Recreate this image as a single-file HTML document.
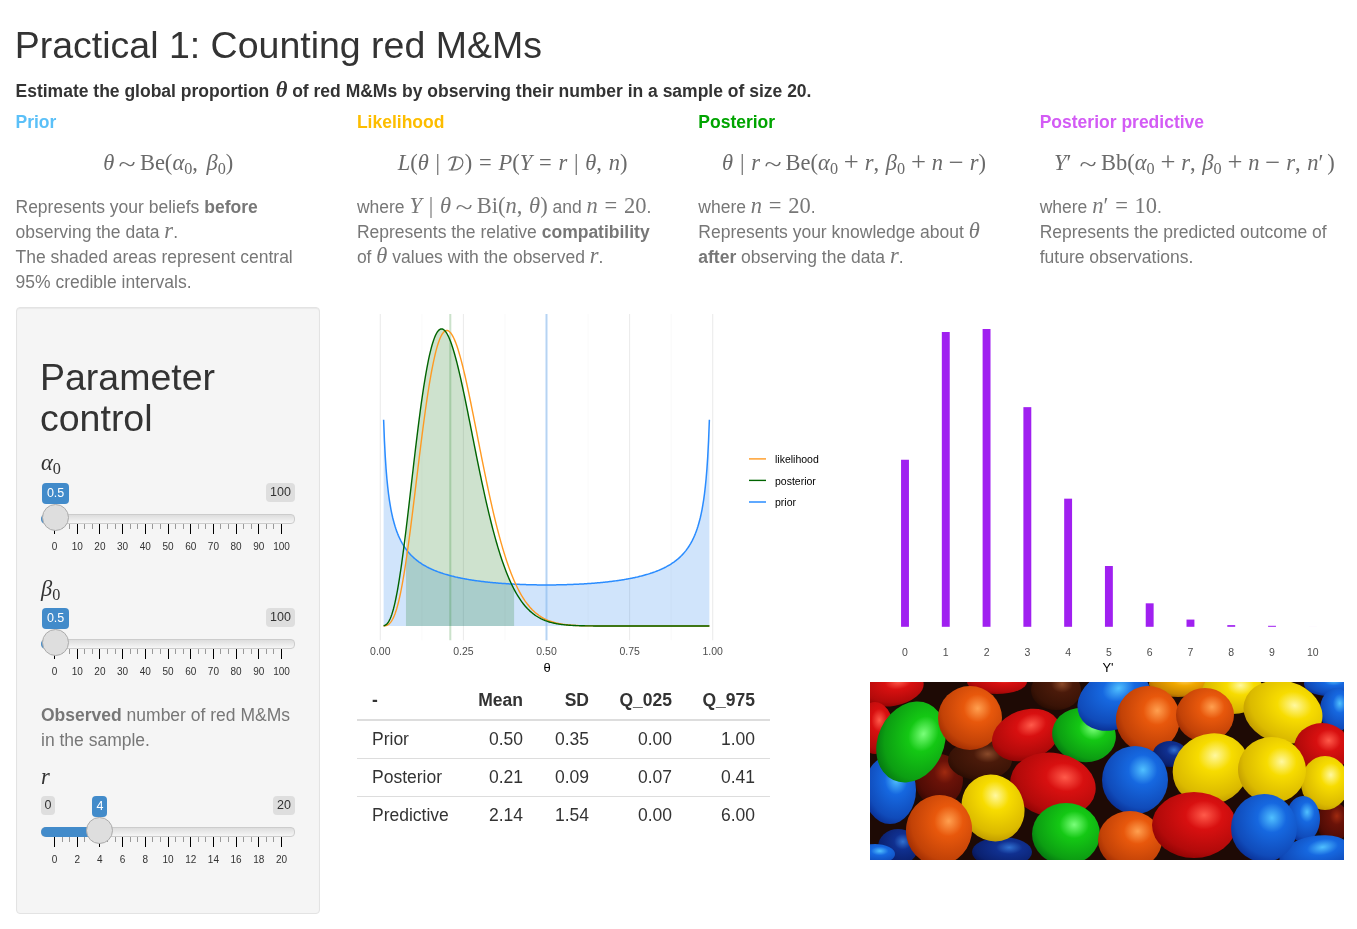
<!DOCTYPE html>
<html><head><meta charset="utf-8"><title>Practical 1: Counting red M&amp;Ms</title>
<style>
html,body{margin:0;padding:0;background:#fff;}
body{will-change:transform;width:1357px;height:929px;overflow:hidden;position:relative;font-family:"Liberation Sans",sans-serif;color:#333;font-size:17.5px;line-height:25px;}
.abs{position:absolute;}
h1{position:absolute;margin:0;font-weight:normal;font-size:37.5px;line-height:41px;left:14.7px;top:25.2px;color:#333;white-space:nowrap;}
.sub{position:absolute;left:15.5px;top:78.8px;font-weight:bold;white-space:nowrap;}
.hd4{font-weight:bold;white-space:nowrap;}
.frm{width:311.4px;text-align:center;white-space:nowrap;color:#6a6a6a;}
.dsc{color:#777;white-space:nowrap;}
.dsc .m,.sub .m{line-height:0;}
.sub .m{margin:0 0 0 1.5px;}
.m{font-family:"Liberation Serif",serif;font-size:22.5px;white-space:nowrap;}
.m i{font-style:italic;}
.sb{font-size:72%;vertical-align:-0.22em;line-height:0;}
.rel{margin:0 0.3em;}
.bin{margin:0 0.22em;font-size:118%;line-height:0;vertical-align:-0.04em;}
.cm{margin-right:0.3em;}
.pr{margin-right:0.17em;}
.calD{display:inline-block;vertical-align:-0.5px;margin:0 1px 0 0;}
.til{display:inline-block;transform:translateY(0.1em) scaleX(1.4);}

.well{position:absolute;left:16px;top:307px;width:302px;height:605px;background:#f5f5f5;border:1px solid #e3e3e3;border-radius:4px;box-shadow:inset 0 1px 1px rgba(0,0,0,.05);}
.pc{position:absolute;left:40px;top:357px;font-size:37.5px;line-height:41px;color:#333;}
.lbl{position:absolute;left:41px;color:#333;}
.obs{position:absolute;left:41px;top:702.5px;color:#777;}
.trk{position:absolute;height:9.5px;border-radius:4px;background:linear-gradient(to bottom,#dddddd 0%,#f6f6f6 100%);border:1px solid #cccccc;box-sizing:border-box;}
.sbar{position:absolute;height:9.5px;border-radius:5px 0 0 5px;background:#428bca;}
.tkM{position:absolute;width:1px;height:10px;background:#000;}
.tkm{position:absolute;width:1px;height:5px;background:#999;}
.sl{position:absolute;width:60px;text-align:center;font-size:10px;line-height:12px;color:#333;}
.hdl{position:absolute;width:27px;height:27px;border-radius:50%;background:#dedede;border:1px solid #ababab;box-sizing:border-box;}
.bdg{position:absolute;height:21px;line-height:21px;text-align:center;font-size:12.5px;color:#fff;background:#428bca;border-radius:4px;}
.bdg.g{background:#dedede;color:#333;height:18.5px;line-height:19px;}
.tl{position:absolute;width:80px;text-align:center;font-size:10.5px;line-height:12px;color:#4d4d4d;}
.axt{position:absolute;width:80px;text-align:center;font-size:13px;line-height:15px;color:#000;}
.leg{position:absolute;font-size:10.5px;line-height:12px;color:#000;}
.tb{border-collapse:collapse;table-layout:fixed;width:413px;font-size:17.5px;}
.tb th,.tb td{text-align:right;padding:0 15px 0 15px;height:37px;line-height:25px;}
.tb tr.hd th{border-bottom:2px solid #dddddd;height:37px;}
.tb td{border-top:1px solid #dddddd;}
.tb tr:nth-child(2) td{border-top:none;}
</style></head><body>
<h1>Practical 1: Counting red M&amp;Ms</h1>
<div class="sub">Estimate the global proportion <span class="m"><i>θ</i></span> of red M&amp;Ms by observing their number in a sample of size 20.</div>
<div class="hd4 abs" style="left:15.5px;top:110px;color:#5bc0f8">Prior</div><div class="frm abs" style="left:12.5px;top:150px"><span class="m"><i>θ</i><span class="rel til">~</span>Be(<i>α</i><span class="sb">0</span><span class="cm" style="margin-right:0.38em">,</span><i>β</i><span class="sb">0</span>)</span></div><div class="dsc abs" style="left:15.5px;top:195px">Represents your beliefs <b>before</b><br>observing the data <span class="m"><i>r</i></span>.<br>The shaded areas represent central<br>95% credible intervals.</div><div class="hd4 abs" style="left:356.9px;top:110px;color:#fdbd00">Likelihood</div><div class="frm abs" style="left:356.9px;top:150px"><span class="m"><i>L</i>(<i>θ</i><span class="rel vb">|</span><svg class="calD" width="17" height="15" viewBox="0 0 17 15"><path d="M1.2,4.4 C2.2,2 4.6,0.9 8.6,0.9 C13.6,0.9 15.9,3.4 15.9,6.6 C15.9,11 11.6,14 6.6,14 L1.8,14" fill="none" stroke="currentColor" stroke-width="1.15"/><path d="M8.6,1.2 C7.9,5.6 6.4,10.6 4.4,13.9" fill="none" stroke="currentColor" stroke-width="1.9"/></svg>)<span class="rel">=</span><i>P</i>(<i>Y</i><span class="rel">=</span><i>r</i><span class="rel vb">|</span><i>θ</i><span class="cm">,</span><i>n</i>)</span></div><div class="dsc abs" style="left:356.9px;top:195px">where <span class="m"><i>Y</i><span class="rel vb">|</span><i>θ</i><span class="rel til">~</span>Bi(<i>n</i><span class="cm">,</span><i>θ</i>)</span> and <span class="m"><i>n</i><span class="rel">=</span>20</span>.<br>Represents the relative <b>compatibility</b><br>of <span class="m"><i>θ</i></span> values with the observed <span class="m"><i>r</i></span>.</div><div class="hd4 abs" style="left:698.3px;top:110px;color:#00a400">Posterior</div><div class="frm abs" style="left:698.3px;top:150px"><span class="m"><i>θ</i><span class="rel vb">|</span><i>r</i><span class="rel til">~</span>Be(<i>α</i><span class="sb">0</span><span class="bin">+</span><i>r</i><span class="cm">,</span><i>β</i><span class="sb">0</span><span class="bin">+</span><i>n</i><span class="bin">−</span><i>r</i>)</span></div><div class="dsc abs" style="left:698.3px;top:195px">where <span class="m"><i>n</i><span class="rel">=</span>20</span>.<br>Represents your knowledge about <span class="m"><i>θ</i></span><br><b>after</b> observing the data <span class="m"><i>r</i></span>.</div><div class="hd4 abs" style="left:1039.7px;top:110px;color:#d35bf5">Posterior predictive</div><div class="frm abs" style="left:1038.7px;top:150px"><span class="m"><i>Y</i><span class="pr">′</span><span class="rel til">~</span>Bb(<i>α</i><span class="sb">0</span><span class="bin">+</span><i>r</i><span class="cm">,</span><i>β</i><span class="sb">0</span><span class="bin">+</span><i>n</i><span class="bin">−</span><i>r</i><span class="cm">,</span><i>n</i><span class="pr">′</span>)</span></div><div class="dsc abs" style="left:1039.7px;top:195px">where <span class="m"><i>n</i>′<span class="rel">=</span>10</span>.<br>Represents the predicted outcome of<br>future observations.</div>
<div class="well"></div>
<div class="pc">Parameter<br>control</div>
<div class="lbl m" style="top:450px"><i>α</i><span class="sb">0</span></div>
<div class="trk" style="left:41px;top:514.0px;width:254px"></div><div class="sbar" style="left:41px;top:514.0px;width:14.6px"></div><div class="tkM" style="left:54.00px;top:523.8px"></div><div class="tkm" style="left:61.57px;top:523.8px"></div><div class="tkm" style="left:69.13px;top:523.8px"></div><div class="tkM" style="left:76.70px;top:523.8px"></div><div class="tkm" style="left:84.27px;top:523.8px"></div><div class="tkm" style="left:91.83px;top:523.8px"></div><div class="tkM" style="left:99.40px;top:523.8px"></div><div class="tkm" style="left:106.97px;top:523.8px"></div><div class="tkm" style="left:114.53px;top:523.8px"></div><div class="tkM" style="left:122.10px;top:523.8px"></div><div class="tkm" style="left:129.67px;top:523.8px"></div><div class="tkm" style="left:137.23px;top:523.8px"></div><div class="tkM" style="left:144.80px;top:523.8px"></div><div class="tkm" style="left:152.37px;top:523.8px"></div><div class="tkm" style="left:159.93px;top:523.8px"></div><div class="tkM" style="left:167.50px;top:523.8px"></div><div class="tkm" style="left:175.07px;top:523.8px"></div><div class="tkm" style="left:182.63px;top:523.8px"></div><div class="tkM" style="left:190.20px;top:523.8px"></div><div class="tkm" style="left:197.77px;top:523.8px"></div><div class="tkm" style="left:205.33px;top:523.8px"></div><div class="tkM" style="left:212.90px;top:523.8px"></div><div class="tkm" style="left:220.47px;top:523.8px"></div><div class="tkm" style="left:228.03px;top:523.8px"></div><div class="tkM" style="left:235.60px;top:523.8px"></div><div class="tkm" style="left:243.17px;top:523.8px"></div><div class="tkm" style="left:250.73px;top:523.8px"></div><div class="tkM" style="left:258.30px;top:523.8px"></div><div class="tkm" style="left:265.87px;top:523.8px"></div><div class="tkm" style="left:273.43px;top:523.8px"></div><div class="tkM" style="left:281.00px;top:523.8px"></div><div class="sl" style="left:24.50px;top:541.3px">0</div><div class="sl" style="left:47.20px;top:541.3px">10</div><div class="sl" style="left:69.90px;top:541.3px">20</div><div class="sl" style="left:92.60px;top:541.3px">30</div><div class="sl" style="left:115.30px;top:541.3px">40</div><div class="sl" style="left:138.00px;top:541.3px">50</div><div class="sl" style="left:160.70px;top:541.3px">60</div><div class="sl" style="left:183.40px;top:541.3px">70</div><div class="sl" style="left:206.10px;top:541.3px">80</div><div class="sl" style="left:228.80px;top:541.3px">90</div><div class="sl" style="left:251.50px;top:541.3px">100</div><div class="hdl" style="left:42.1px;top:504.0px"></div><div class="bdg" style="left:42.1px;top:483px;width:27px">0.5</div><div class="bdg g" style="left:266px;top:483px;width:29px">100</div>
<div class="lbl m" style="top:576px"><i>β</i><span class="sb">0</span></div>
<div class="trk" style="left:41px;top:639.0px;width:254px"></div><div class="sbar" style="left:41px;top:639.0px;width:14.6px"></div><div class="tkM" style="left:54.00px;top:648.8px"></div><div class="tkm" style="left:61.57px;top:648.8px"></div><div class="tkm" style="left:69.13px;top:648.8px"></div><div class="tkM" style="left:76.70px;top:648.8px"></div><div class="tkm" style="left:84.27px;top:648.8px"></div><div class="tkm" style="left:91.83px;top:648.8px"></div><div class="tkM" style="left:99.40px;top:648.8px"></div><div class="tkm" style="left:106.97px;top:648.8px"></div><div class="tkm" style="left:114.53px;top:648.8px"></div><div class="tkM" style="left:122.10px;top:648.8px"></div><div class="tkm" style="left:129.67px;top:648.8px"></div><div class="tkm" style="left:137.23px;top:648.8px"></div><div class="tkM" style="left:144.80px;top:648.8px"></div><div class="tkm" style="left:152.37px;top:648.8px"></div><div class="tkm" style="left:159.93px;top:648.8px"></div><div class="tkM" style="left:167.50px;top:648.8px"></div><div class="tkm" style="left:175.07px;top:648.8px"></div><div class="tkm" style="left:182.63px;top:648.8px"></div><div class="tkM" style="left:190.20px;top:648.8px"></div><div class="tkm" style="left:197.77px;top:648.8px"></div><div class="tkm" style="left:205.33px;top:648.8px"></div><div class="tkM" style="left:212.90px;top:648.8px"></div><div class="tkm" style="left:220.47px;top:648.8px"></div><div class="tkm" style="left:228.03px;top:648.8px"></div><div class="tkM" style="left:235.60px;top:648.8px"></div><div class="tkm" style="left:243.17px;top:648.8px"></div><div class="tkm" style="left:250.73px;top:648.8px"></div><div class="tkM" style="left:258.30px;top:648.8px"></div><div class="tkm" style="left:265.87px;top:648.8px"></div><div class="tkm" style="left:273.43px;top:648.8px"></div><div class="tkM" style="left:281.00px;top:648.8px"></div><div class="sl" style="left:24.50px;top:666.3px">0</div><div class="sl" style="left:47.20px;top:666.3px">10</div><div class="sl" style="left:69.90px;top:666.3px">20</div><div class="sl" style="left:92.60px;top:666.3px">30</div><div class="sl" style="left:115.30px;top:666.3px">40</div><div class="sl" style="left:138.00px;top:666.3px">50</div><div class="sl" style="left:160.70px;top:666.3px">60</div><div class="sl" style="left:183.40px;top:666.3px">70</div><div class="sl" style="left:206.10px;top:666.3px">80</div><div class="sl" style="left:228.80px;top:666.3px">90</div><div class="sl" style="left:251.50px;top:666.3px">100</div><div class="hdl" style="left:42.1px;top:629.0px"></div><div class="bdg" style="left:42.1px;top:608px;width:27px">0.5</div><div class="bdg g" style="left:266px;top:608px;width:29px">100</div>
<div class="obs"><b>Observed</b> number of red M&amp;Ms<br>in the sample.</div>
<div class="lbl m" style="top:763.5px"><i>r</i></div>
<div class="trk" style="left:41px;top:827.1px;width:254px"></div><div class="sbar" style="left:41px;top:827.1px;width:58.9px"></div><div class="tkM" style="left:54.00px;top:836.9px"></div><div class="tkm" style="left:61.57px;top:836.9px"></div><div class="tkm" style="left:69.13px;top:836.9px"></div><div class="tkM" style="left:76.70px;top:836.9px"></div><div class="tkm" style="left:84.27px;top:836.9px"></div><div class="tkm" style="left:91.83px;top:836.9px"></div><div class="tkM" style="left:99.40px;top:836.9px"></div><div class="tkm" style="left:106.97px;top:836.9px"></div><div class="tkm" style="left:114.53px;top:836.9px"></div><div class="tkM" style="left:122.10px;top:836.9px"></div><div class="tkm" style="left:129.67px;top:836.9px"></div><div class="tkm" style="left:137.23px;top:836.9px"></div><div class="tkM" style="left:144.80px;top:836.9px"></div><div class="tkm" style="left:152.37px;top:836.9px"></div><div class="tkm" style="left:159.93px;top:836.9px"></div><div class="tkM" style="left:167.50px;top:836.9px"></div><div class="tkm" style="left:175.07px;top:836.9px"></div><div class="tkm" style="left:182.63px;top:836.9px"></div><div class="tkM" style="left:190.20px;top:836.9px"></div><div class="tkm" style="left:197.77px;top:836.9px"></div><div class="tkm" style="left:205.33px;top:836.9px"></div><div class="tkM" style="left:212.90px;top:836.9px"></div><div class="tkm" style="left:220.47px;top:836.9px"></div><div class="tkm" style="left:228.03px;top:836.9px"></div><div class="tkM" style="left:235.60px;top:836.9px"></div><div class="tkm" style="left:243.17px;top:836.9px"></div><div class="tkm" style="left:250.73px;top:836.9px"></div><div class="tkM" style="left:258.30px;top:836.9px"></div><div class="tkm" style="left:265.87px;top:836.9px"></div><div class="tkm" style="left:273.43px;top:836.9px"></div><div class="tkM" style="left:281.00px;top:836.9px"></div><div class="sl" style="left:24.50px;top:854.4px">0</div><div class="sl" style="left:47.20px;top:854.4px">2</div><div class="sl" style="left:69.90px;top:854.4px">4</div><div class="sl" style="left:92.60px;top:854.4px">6</div><div class="sl" style="left:115.30px;top:854.4px">8</div><div class="sl" style="left:138.00px;top:854.4px">10</div><div class="sl" style="left:160.70px;top:854.4px">12</div><div class="sl" style="left:183.40px;top:854.4px">14</div><div class="sl" style="left:206.10px;top:854.4px">16</div><div class="sl" style="left:228.80px;top:854.4px">18</div><div class="sl" style="left:251.50px;top:854.4px">20</div><div class="hdl" style="left:86.4px;top:817.1px"></div><div class="bdg" style="left:92.4px;top:796.1px;width:15px">4</div><div class="bdg g" style="left:273px;top:796.1px;width:22px">20</div><div class="bdg g" style="left:41px;top:796.1px;width:14px">0</div>
<svg class="abs" style="left:0;top:0" width="1357" height="929" viewBox="0 0 1357 929">
<line x1="380.30" y1="314" x2="380.30" y2="640.3" stroke="#ebebeb" stroke-width="1.07"/><line x1="421.85" y1="314" x2="421.85" y2="640.3" stroke="#f3f3f3" stroke-width="0.53"/><line x1="463.40" y1="314" x2="463.40" y2="640.3" stroke="#ebebeb" stroke-width="1.07"/><line x1="504.95" y1="314" x2="504.95" y2="640.3" stroke="#f3f3f3" stroke-width="0.53"/><line x1="546.50" y1="314" x2="546.50" y2="640.3" stroke="#ebebeb" stroke-width="1.07"/><line x1="588.05" y1="314" x2="588.05" y2="640.3" stroke="#f3f3f3" stroke-width="0.53"/><line x1="629.60" y1="314" x2="629.60" y2="640.3" stroke="#ebebeb" stroke-width="1.07"/><line x1="671.15" y1="314" x2="671.15" y2="640.3" stroke="#f3f3f3" stroke-width="0.53"/><line x1="712.70" y1="314" x2="712.70" y2="640.3" stroke="#ebebeb" stroke-width="1.07"/>
<path d="M383.62,626.00 L383.62,419.67 L384.71,446.64 L385.80,465.11 L386.89,478.76 L387.98,489.37 L389.07,497.92 L390.16,505.00 L391.25,510.98 L392.34,516.12 L393.43,520.60 L394.52,524.55 L395.61,528.05 L396.70,531.20 L397.79,534.04 L398.88,536.63 L399.97,538.99 L401.06,541.15 L402.15,543.15 L403.23,545.00 L404.32,546.72 L405.41,548.32 L406.50,549.82 L407.59,551.22 L408.68,552.54 L409.77,553.78 L410.86,554.95 L411.95,556.06 L413.04,557.11 L414.13,558.10 L415.22,559.05 L416.31,559.94 L417.40,560.80 L418.49,561.62 L419.58,562.40 L420.67,563.15 L421.76,563.86 L422.84,564.55 L423.93,565.21 L425.02,565.84 L426.11,566.45 L427.20,567.03 L428.29,567.59 L429.38,568.13 L430.47,568.65 L431.56,569.16 L432.65,569.64 L433.74,570.11 L434.83,570.56 L435.92,571.00 L437.01,571.42 L438.10,571.83 L439.19,572.23 L440.28,572.61 L441.37,572.99 L442.46,573.35 L443.54,573.70 L444.63,574.04 L445.72,574.37 L446.81,574.69 L447.90,575.00 L448.99,575.30 L450.08,575.59 L451.17,575.88 L452.26,576.15 L453.35,576.42 L454.44,576.68 L455.53,576.94 L456.62,577.19 L457.71,577.43 L458.80,577.66 L459.89,577.89 L460.98,578.11 L462.07,578.33 L463.16,578.54 L464.24,578.75 L465.33,578.95 L466.42,579.14 L467.51,579.33 L468.60,579.52 L469.69,579.70 L470.78,579.88 L471.87,580.05 L472.96,580.22 L474.05,580.38 L475.14,580.54 L476.23,580.69 L477.32,580.84 L478.41,580.99 L479.50,581.13 L480.59,581.27 L481.68,581.41 L482.77,581.54 L483.86,581.67 L484.94,581.80 L486.03,581.92 L487.12,582.04 L488.21,582.16 L489.30,582.27 L490.39,582.38 L491.48,582.49 L492.57,582.59 L493.66,582.69 L494.75,582.79 L495.84,582.89 L496.93,582.98 L498.02,583.07 L499.11,583.16 L500.20,583.25 L501.29,583.33 L502.38,583.41 L503.47,583.49 L504.56,583.57 L505.64,583.64 L506.73,583.71 L507.82,583.78 L508.91,583.85 L510.00,583.91 L511.09,583.98 L512.18,584.04 L513.27,584.09 L514.36,584.15 L515.45,584.21 L516.54,584.26 L517.63,584.31 L518.72,584.36 L519.81,584.40 L520.90,584.44 L521.99,584.49 L523.08,584.53 L524.17,584.57 L525.26,584.60 L526.34,584.64 L527.43,584.67 L528.52,584.70 L529.61,584.73 L530.70,584.75 L531.79,584.78 L532.88,584.80 L533.97,584.82 L535.06,584.84 L536.15,584.86 L537.24,584.88 L538.33,584.89 L539.42,584.90 L540.51,584.91 L541.60,584.92 L542.69,584.93 L543.78,584.94 L544.87,584.94 L545.96,584.94 L547.04,584.94 L548.13,584.94 L549.22,584.94 L550.31,584.93 L551.40,584.92 L552.49,584.91 L553.58,584.90 L554.67,584.89 L555.76,584.88 L556.85,584.86 L557.94,584.84 L559.03,584.82 L560.12,584.80 L561.21,584.78 L562.30,584.75 L563.39,584.73 L564.48,584.70 L565.57,584.67 L566.66,584.64 L567.74,584.60 L568.83,584.57 L569.92,584.53 L571.01,584.49 L572.10,584.44 L573.19,584.40 L574.28,584.36 L575.37,584.31 L576.46,584.26 L577.55,584.21 L578.64,584.15 L579.73,584.09 L580.82,584.04 L581.91,583.98 L583.00,583.91 L584.09,583.85 L585.18,583.78 L586.27,583.71 L587.36,583.64 L588.44,583.57 L589.53,583.49 L590.62,583.41 L591.71,583.33 L592.80,583.25 L593.89,583.16 L594.98,583.07 L596.07,582.98 L597.16,582.89 L598.25,582.79 L599.34,582.69 L600.43,582.59 L601.52,582.49 L602.61,582.38 L603.70,582.27 L604.79,582.16 L605.88,582.04 L606.97,581.92 L608.06,581.80 L609.14,581.67 L610.23,581.54 L611.32,581.41 L612.41,581.27 L613.50,581.13 L614.59,580.99 L615.68,580.84 L616.77,580.69 L617.86,580.54 L618.95,580.38 L620.04,580.22 L621.13,580.05 L622.22,579.88 L623.31,579.70 L624.40,579.52 L625.49,579.33 L626.58,579.14 L627.67,578.95 L628.76,578.75 L629.84,578.54 L630.93,578.33 L632.02,578.11 L633.11,577.89 L634.20,577.66 L635.29,577.43 L636.38,577.19 L637.47,576.94 L638.56,576.68 L639.65,576.42 L640.74,576.15 L641.83,575.88 L642.92,575.59 L644.01,575.30 L645.10,575.00 L646.19,574.69 L647.28,574.37 L648.37,574.04 L649.46,573.70 L650.54,573.35 L651.63,572.99 L652.72,572.61 L653.81,572.23 L654.90,571.83 L655.99,571.42 L657.08,571.00 L658.17,570.56 L659.26,570.11 L660.35,569.64 L661.44,569.16 L662.53,568.65 L663.62,568.13 L664.71,567.59 L665.80,567.03 L666.89,566.45 L667.98,565.84 L669.07,565.21 L670.16,564.55 L671.24,563.86 L672.33,563.15 L673.42,562.40 L674.51,561.62 L675.60,560.80 L676.69,559.94 L677.78,559.05 L678.87,558.10 L679.96,557.11 L681.05,556.06 L682.14,554.95 L683.23,553.78 L684.32,552.54 L685.41,551.22 L686.50,549.82 L687.59,548.32 L688.68,546.72 L689.77,545.00 L690.85,543.15 L691.94,541.15 L693.03,538.99 L694.12,536.63 L695.21,534.04 L696.30,531.20 L697.39,528.05 L698.48,524.55 L699.57,520.60 L700.66,516.12 L701.75,510.98 L702.84,505.00 L703.93,497.92 L705.02,489.37 L706.11,478.76 L707.20,465.11 L708.29,446.64 L709.38,419.67 L709.38,626.00 Z" fill="#3b8ff0" fill-opacity="0.24"/>
<path d="M405.96,626.00 L405.96,530.35 L406.32,527.37 L406.68,524.37 L407.05,521.34 L407.41,518.30 L407.77,515.24 L408.13,512.17 L408.49,509.08 L408.85,505.98 L409.22,502.87 L409.58,499.75 L409.94,496.62 L410.30,493.49 L410.66,490.35 L411.02,487.22 L411.39,484.08 L411.75,480.94 L412.11,477.80 L412.47,474.67 L412.83,471.55 L413.19,468.43 L413.56,465.32 L413.92,462.22 L414.28,459.13 L414.64,456.06 L415.00,453.00 L415.36,449.95 L415.73,446.92 L416.09,443.92 L416.45,440.93 L416.81,437.96 L417.17,435.01 L417.53,432.09 L417.90,429.20 L418.26,426.33 L418.62,423.48 L418.98,420.67 L419.34,417.88 L419.70,415.13 L420.07,412.40 L420.43,409.71 L420.79,407.05 L421.15,404.43 L421.51,401.84 L421.87,399.29 L422.23,396.78 L422.60,394.30 L422.96,391.87 L423.32,389.47 L423.68,387.11 L424.04,384.79 L424.40,382.52 L424.77,380.29 L425.13,378.10 L425.49,375.95 L425.85,373.85 L426.21,371.80 L426.57,369.78 L426.94,367.82 L427.30,365.90 L427.66,364.03 L428.02,362.20 L428.38,360.42 L428.74,358.69 L429.11,357.01 L429.47,355.37 L429.83,353.78 L430.19,352.25 L430.55,350.76 L430.91,349.32 L431.28,347.93 L431.64,346.59 L432.00,345.29 L432.36,344.05 L432.72,342.86 L433.08,341.72 L433.45,340.62 L433.81,339.58 L434.17,338.59 L434.53,337.64 L434.89,336.75 L435.25,335.90 L435.62,335.11 L435.98,334.36 L436.34,333.66 L436.70,333.01 L437.06,332.41 L437.42,331.86 L437.79,331.35 L438.15,330.90 L438.51,330.49 L438.87,330.13 L439.23,329.82 L439.59,329.55 L439.96,329.33 L440.32,329.15 L440.68,329.02 L441.04,328.94 L441.40,328.90 L441.76,328.91 L442.13,328.96 L442.49,329.05 L442.85,329.19 L443.21,329.37 L443.57,329.59 L443.93,329.86 L444.29,330.17 L444.66,330.51 L445.02,330.90 L445.38,331.33 L445.74,331.80 L446.10,332.30 L446.46,332.85 L446.83,333.43 L447.19,334.05 L447.55,334.71 L447.91,335.40 L448.27,336.13 L448.63,336.90 L449.00,337.70 L449.36,338.53 L449.72,339.40 L450.08,340.30 L450.44,341.23 L450.80,342.19 L451.17,343.19 L451.53,344.21 L451.89,345.27 L452.25,346.35 L452.61,347.46 L452.97,348.61 L453.34,349.78 L453.70,350.97 L454.06,352.19 L454.42,353.44 L454.78,354.72 L455.14,356.01 L455.51,357.34 L455.87,358.68 L456.23,360.05 L456.59,361.44 L456.95,362.85 L457.31,364.28 L457.68,365.74 L458.04,367.21 L458.40,368.70 L458.76,370.21 L459.12,371.74 L459.48,373.29 L459.85,374.85 L460.21,376.43 L460.57,378.02 L460.93,379.63 L461.29,381.26 L461.65,382.90 L462.02,384.55 L462.38,386.22 L462.74,387.89 L463.10,389.58 L463.46,391.28 L463.82,393.00 L464.18,394.72 L464.55,396.45 L464.91,398.19 L465.27,399.94 L465.63,401.70 L465.99,403.46 L466.35,405.24 L466.72,407.02 L467.08,408.80 L467.44,410.59 L467.80,412.39 L468.16,414.19 L468.52,416.00 L468.89,417.81 L469.25,419.62 L469.61,421.44 L469.97,423.26 L470.33,425.08 L470.69,426.90 L471.06,428.72 L471.42,430.55 L471.78,432.38 L472.14,434.20 L472.50,436.03 L472.86,437.85 L473.23,439.68 L473.59,441.50 L473.95,443.32 L474.31,445.14 L474.67,446.95 L475.03,448.77 L475.40,450.58 L475.76,452.39 L476.12,454.19 L476.48,455.99 L476.84,457.78 L477.20,459.57 L477.57,461.36 L477.93,463.14 L478.29,464.91 L478.65,466.68 L479.01,468.44 L479.37,470.20 L479.74,471.95 L480.10,473.69 L480.46,475.42 L480.82,477.15 L481.18,478.87 L481.54,480.58 L481.91,482.29 L482.27,483.98 L482.63,485.67 L482.99,487.35 L483.35,489.02 L483.71,490.68 L484.08,492.33 L484.44,493.98 L484.80,495.61 L485.16,497.23 L485.52,498.84 L485.88,500.45 L486.24,502.04 L486.61,503.62 L486.97,505.19 L487.33,506.75 L487.69,508.30 L488.05,509.84 L488.41,511.37 L488.78,512.89 L489.14,514.40 L489.50,515.89 L489.86,517.37 L490.22,518.84 L490.58,520.30 L490.95,521.75 L491.31,523.19 L491.67,524.61 L492.03,526.03 L492.39,527.43 L492.75,528.82 L493.12,530.19 L493.48,531.56 L493.84,532.91 L494.20,534.25 L494.56,535.58 L494.92,536.90 L495.29,538.20 L495.65,539.49 L496.01,540.77 L496.37,542.03 L496.73,543.29 L497.09,544.53 L497.46,545.76 L497.82,546.98 L498.18,548.18 L498.54,549.37 L498.90,550.55 L499.26,551.72 L499.63,552.87 L499.99,554.01 L500.35,555.14 L500.71,556.26 L501.07,557.36 L501.43,558.46 L501.80,559.54 L502.16,560.61 L502.52,561.66 L502.88,562.70 L503.24,563.74 L503.60,564.75 L503.97,565.76 L504.33,566.76 L504.69,567.74 L505.05,568.71 L505.41,569.67 L505.77,570.62 L506.13,571.55 L506.50,572.48 L506.86,573.39 L507.22,574.29 L507.58,575.18 L507.94,576.06 L508.30,576.92 L508.67,577.78 L509.03,578.62 L509.39,579.45 L509.75,580.28 L510.11,581.09 L510.47,581.89 L510.84,582.67 L511.20,583.45 L511.56,584.22 L511.92,584.97 L512.28,585.72 L512.64,586.46 L513.01,587.18 L513.37,587.89 L513.73,588.60 L514.09,589.29 L514.09,626.00 Z" fill="#1f7a1f" fill-opacity="0.22"/>
<line x1="450.3" y1="314" x2="450.3" y2="640.3" stroke="#2e8b2e" stroke-opacity="0.25" stroke-width="2"/>
<line x1="546.50" y1="314" x2="546.50" y2="640.3" stroke="#8cc0f5" stroke-opacity="0.55" stroke-width="2.2"/>
<path d="M383.62,419.67 L384.44,440.90 L385.26,456.62 L386.07,468.85 L386.89,478.73 L387.71,486.91 L388.52,493.83 L389.34,499.78 L390.16,504.97 L390.97,509.54 L391.79,513.61 L392.60,517.27 L393.42,520.57 L394.24,523.57 L395.05,526.32 L395.87,528.84 L396.69,531.17 L397.50,533.33 L398.32,535.34 L399.14,537.21 L399.95,538.96 L400.77,540.60 L401.59,542.14 L402.40,543.60 L403.22,544.97 L404.03,546.27 L404.85,547.51 L405.67,548.68 L406.48,549.79 L407.30,550.85 L408.12,551.86 L408.93,552.83 L409.75,553.75 L410.57,554.64 L411.38,555.49 L412.20,556.30 L413.02,557.08 L413.83,557.83 L414.65,558.56 L415.46,559.25 L416.28,559.92 L417.10,560.57 L417.91,561.19 L418.73,561.80 L419.55,562.38 L420.36,562.94 L421.18,563.49 L422.00,564.02 L422.81,564.53 L423.63,565.03 L424.45,565.51 L425.26,565.97 L426.08,566.43 L426.89,566.87 L427.71,567.29 L428.53,567.71 L429.34,568.11 L430.16,568.51 L430.98,568.89 L431.79,569.26 L432.61,569.62 L433.43,569.98 L434.24,570.32 L435.06,570.66 L435.87,570.98 L436.69,571.30 L437.51,571.61 L438.32,571.92 L439.14,572.21 L439.96,572.50 L440.77,572.79 L441.59,573.06 L442.41,573.33 L443.22,573.59 L444.04,573.85 L444.86,574.10 L445.67,574.35 L446.49,574.59 L447.30,574.83 L448.12,575.06 L448.94,575.28 L449.75,575.50 L450.57,575.72 L451.39,575.93 L452.20,576.14 L453.02,576.34 L453.84,576.54 L454.65,576.73 L455.47,576.93 L456.29,577.11 L457.10,577.29 L457.92,577.47 L458.73,577.65 L459.55,577.82 L460.37,577.99 L461.18,578.16 L462.00,578.32 L462.82,578.48 L463.63,578.63 L464.45,578.79 L465.27,578.94 L466.08,579.08 L466.90,579.23 L467.72,579.37 L468.53,579.51 L469.35,579.64 L470.16,579.78 L470.98,579.91 L471.80,580.04 L472.61,580.16 L473.43,580.29 L474.25,580.41 L475.06,580.53 L475.88,580.64 L476.70,580.76 L477.51,580.87 L478.33,580.98 L479.15,581.09 L479.96,581.19 L480.78,581.30 L481.59,581.40 L482.41,581.50 L483.23,581.60 L484.04,581.69 L484.86,581.79 L485.68,581.88 L486.49,581.97 L487.31,582.06 L488.13,582.15 L488.94,582.23 L489.76,582.32 L490.58,582.40 L491.39,582.48 L492.21,582.56 L493.02,582.63 L493.84,582.71 L494.66,582.78 L495.47,582.86 L496.29,582.93 L497.11,583.00 L497.92,583.07 L498.74,583.13 L499.56,583.20 L500.37,583.26 L501.19,583.32 L502.01,583.39 L502.82,583.45 L503.64,583.50 L504.45,583.56 L505.27,583.62 L506.09,583.67 L506.90,583.72 L507.72,583.78 L508.54,583.83 L509.35,583.88 L510.17,583.92 L510.99,583.97 L511.80,584.02 L512.62,584.06 L513.43,584.10 L514.25,584.15 L515.07,584.19 L515.88,584.23 L516.70,584.26 L517.52,584.30 L518.33,584.34 L519.15,584.37 L519.97,584.41 L520.78,584.44 L521.60,584.47 L522.42,584.50 L523.23,584.53 L524.05,584.56 L524.86,584.59 L525.68,584.62 L526.50,584.64 L527.31,584.66 L528.13,584.69 L528.95,584.71 L529.76,584.73 L530.58,584.75 L531.40,584.77 L532.21,584.79 L533.03,584.81 L533.85,584.82 L534.66,584.84 L535.48,584.85 L536.29,584.86 L537.11,584.88 L537.93,584.89 L538.74,584.90 L539.56,584.91 L540.38,584.91 L541.19,584.92 L542.01,584.93 L542.83,584.93 L543.64,584.93 L544.46,584.94 L545.28,584.94 L546.09,584.94 L546.91,584.94 L547.72,584.94 L548.54,584.94 L549.36,584.93 L550.17,584.93 L550.99,584.93 L551.81,584.92 L552.62,584.91 L553.44,584.91 L554.26,584.90 L555.07,584.89 L555.89,584.88 L556.71,584.86 L557.52,584.85 L558.34,584.84 L559.15,584.82 L559.97,584.81 L560.79,584.79 L561.60,584.77 L562.42,584.75 L563.24,584.73 L564.05,584.71 L564.87,584.69 L565.69,584.66 L566.50,584.64 L567.32,584.62 L568.14,584.59 L568.95,584.56 L569.77,584.53 L570.58,584.50 L571.40,584.47 L572.22,584.44 L573.03,584.41 L573.85,584.37 L574.67,584.34 L575.48,584.30 L576.30,584.26 L577.12,584.23 L577.93,584.19 L578.75,584.15 L579.57,584.10 L580.38,584.06 L581.20,584.02 L582.01,583.97 L582.83,583.92 L583.65,583.88 L584.46,583.83 L585.28,583.78 L586.10,583.72 L586.91,583.67 L587.73,583.62 L588.55,583.56 L589.36,583.50 L590.18,583.45 L590.99,583.39 L591.81,583.32 L592.63,583.26 L593.44,583.20 L594.26,583.13 L595.08,583.07 L595.89,583.00 L596.71,582.93 L597.53,582.86 L598.34,582.78 L599.16,582.71 L599.98,582.63 L600.79,582.56 L601.61,582.48 L602.42,582.40 L603.24,582.32 L604.06,582.23 L604.87,582.15 L605.69,582.06 L606.51,581.97 L607.32,581.88 L608.14,581.79 L608.96,581.69 L609.77,581.60 L610.59,581.50 L611.41,581.40 L612.22,581.30 L613.04,581.19 L613.85,581.09 L614.67,580.98 L615.49,580.87 L616.30,580.76 L617.12,580.64 L617.94,580.53 L618.75,580.41 L619.57,580.29 L620.39,580.16 L621.20,580.04 L622.02,579.91 L622.84,579.78 L623.65,579.64 L624.47,579.51 L625.28,579.37 L626.10,579.23 L626.92,579.08 L627.73,578.94 L628.55,578.79 L629.37,578.63 L630.18,578.48 L631.00,578.32 L631.82,578.16 L632.63,577.99 L633.45,577.82 L634.27,577.65 L635.08,577.47 L635.90,577.29 L636.71,577.11 L637.53,576.93 L638.35,576.73 L639.16,576.54 L639.98,576.34 L640.80,576.14 L641.61,575.93 L642.43,575.72 L643.25,575.50 L644.06,575.28 L644.88,575.06 L645.70,574.83 L646.51,574.59 L647.33,574.35 L648.14,574.10 L648.96,573.85 L649.78,573.59 L650.59,573.33 L651.41,573.06 L652.23,572.79 L653.04,572.50 L653.86,572.21 L654.68,571.92 L655.49,571.61 L656.31,571.30 L657.13,570.98 L657.94,570.66 L658.76,570.32 L659.57,569.98 L660.39,569.62 L661.21,569.26 L662.02,568.89 L662.84,568.51 L663.66,568.11 L664.47,567.71 L665.29,567.29 L666.11,566.87 L666.92,566.43 L667.74,565.97 L668.55,565.51 L669.37,565.03 L670.19,564.53 L671.00,564.02 L671.82,563.49 L672.64,562.94 L673.45,562.38 L674.27,561.80 L675.09,561.19 L675.90,560.57 L676.72,559.92 L677.54,559.25 L678.35,558.56 L679.17,557.83 L679.98,557.08 L680.80,556.30 L681.62,555.49 L682.43,554.64 L683.25,553.75 L684.07,552.83 L684.88,551.86 L685.70,550.85 L686.52,549.79 L687.33,548.68 L688.15,547.51 L688.97,546.27 L689.78,544.97 L690.60,543.60 L691.41,542.14 L692.23,540.60 L693.05,538.96 L693.86,537.21 L694.68,535.34 L695.50,533.33 L696.31,531.17 L697.13,528.84 L697.95,526.32 L698.76,523.57 L699.58,520.57 L700.40,517.27 L701.21,513.61 L702.03,509.54 L702.84,504.97 L703.66,499.78 L704.48,493.83 L705.29,486.91 L706.11,478.73 L706.93,468.85 L707.74,456.62 L708.56,440.90 L709.38,419.67" fill="none" stroke="#2a8cff" stroke-width="1.5"/>
<path d="M383.62,625.94 L384.44,625.87 L385.26,625.74 L386.07,625.55 L386.89,625.26 L387.71,624.87 L388.52,624.35 L389.34,623.69 L390.16,622.87 L390.97,621.86 L391.79,620.67 L392.60,619.26 L393.42,617.64 L394.24,615.78 L395.05,613.68 L395.87,611.34 L396.69,608.74 L397.50,605.88 L398.32,602.77 L399.14,599.39 L399.95,595.76 L400.77,591.87 L401.59,587.73 L402.40,583.34 L403.22,578.72 L404.03,573.86 L404.85,568.79 L405.67,563.50 L406.48,558.02 L407.30,552.35 L408.12,546.51 L408.93,540.51 L409.75,534.36 L410.57,528.09 L411.38,521.70 L412.20,515.22 L413.02,508.66 L413.83,502.03 L414.65,495.35 L415.46,488.64 L416.28,481.92 L417.10,475.19 L417.91,468.49 L418.73,461.81 L419.55,455.18 L420.36,448.61 L421.18,442.11 L422.00,435.71 L422.81,429.41 L423.63,423.23 L424.45,417.18 L425.26,411.26 L426.08,405.50 L426.89,399.91 L427.71,394.48 L428.53,389.24 L429.34,384.19 L430.16,379.33 L430.98,374.69 L431.79,370.25 L432.61,366.03 L433.43,362.04 L434.24,358.28 L435.06,354.75 L435.87,351.45 L436.69,348.39 L437.51,345.57 L438.32,343.00 L439.14,340.66 L439.96,338.57 L440.77,336.73 L441.59,335.12 L442.41,333.76 L443.22,332.64 L444.04,331.75 L444.86,331.10 L445.67,330.68 L446.49,330.48 L447.30,330.52 L448.12,330.77 L448.94,331.24 L449.75,331.91 L450.57,332.80 L451.39,333.88 L452.20,335.16 L453.02,336.63 L453.84,338.28 L454.65,340.11 L455.47,342.11 L456.29,344.27 L457.10,346.60 L457.92,349.07 L458.73,351.69 L459.55,354.44 L460.37,357.33 L461.18,360.34 L462.00,363.47 L462.82,366.71 L463.63,370.06 L464.45,373.50 L465.27,377.03 L466.08,380.64 L466.90,384.34 L467.72,388.10 L468.53,391.93 L469.35,395.82 L470.16,399.76 L470.98,403.74 L471.80,407.77 L472.61,411.83 L473.43,415.92 L474.25,420.03 L475.06,424.16 L475.88,428.31 L476.70,432.46 L477.51,436.62 L478.33,440.77 L479.15,444.92 L479.96,449.06 L480.78,453.19 L481.59,457.29 L482.41,461.38 L483.23,465.44 L484.04,469.47 L484.86,473.47 L485.68,477.43 L486.49,481.36 L487.31,485.24 L488.13,489.08 L488.94,492.87 L489.76,496.62 L490.58,500.31 L491.39,503.96 L492.21,507.55 L493.02,511.08 L493.84,514.55 L494.66,517.97 L495.47,521.33 L496.29,524.62 L497.11,527.86 L497.92,531.03 L498.74,534.14 L499.56,537.18 L500.37,540.16 L501.19,543.07 L502.01,545.92 L502.82,548.70 L503.64,551.42 L504.45,554.07 L505.27,556.66 L506.09,559.18 L506.90,561.64 L507.72,564.03 L508.54,566.36 L509.35,568.63 L510.17,570.83 L510.99,572.97 L511.80,575.05 L512.62,577.07 L513.43,579.02 L514.25,580.92 L515.07,582.76 L515.88,584.54 L516.70,586.27 L517.52,587.94 L518.33,589.55 L519.15,591.11 L519.97,592.62 L520.78,594.07 L521.60,595.48 L522.42,596.84 L523.23,598.14 L524.05,599.40 L524.86,600.62 L525.68,601.79 L526.50,602.91 L527.31,604.00 L528.13,605.04 L528.95,606.04 L529.76,607.00 L530.58,607.92 L531.40,608.81 L532.21,609.66 L533.03,610.47 L533.85,611.25 L534.66,612.00 L535.48,612.71 L536.29,613.40 L537.11,614.05 L537.93,614.68 L538.74,615.28 L539.56,615.85 L540.38,616.39 L541.19,616.91 L542.01,617.41 L542.83,617.88 L543.64,618.33 L544.46,618.76 L545.28,619.17 L546.09,619.56 L546.91,619.92 L547.72,620.27 L548.54,620.61 L549.36,620.92 L550.17,621.22 L550.99,621.51 L551.81,621.78 L552.62,622.03 L553.44,622.27 L554.26,622.50 L555.07,622.72 L555.89,622.93 L556.71,623.12 L557.52,623.30 L558.34,623.47 L559.15,623.64 L559.97,623.79 L560.79,623.93 L561.60,624.07 L562.42,624.20 L563.24,624.32 L564.05,624.43 L564.87,624.54 L565.69,624.64 L566.50,624.73 L567.32,624.82 L568.14,624.90 L568.95,624.98 L569.77,625.05 L570.58,625.12 L571.40,625.19 L572.22,625.24 L573.03,625.30 L573.85,625.35 L574.67,625.40 L575.48,625.45 L576.30,625.49 L577.12,625.53 L577.93,625.56 L578.75,625.60 L579.57,625.63 L580.38,625.66 L581.20,625.68 L582.01,625.71 L582.83,625.73 L583.65,625.76 L584.46,625.78 L585.28,625.79 L586.10,625.81 L586.91,625.83 L587.73,625.84 L588.55,625.85 L589.36,625.87 L590.18,625.88 L590.99,625.89 L591.81,625.90 L592.63,625.91 L593.44,625.92 L594.26,625.92 L595.08,625.93 L595.89,625.94 L596.71,625.94 L597.53,625.95 L598.34,625.95 L599.16,625.96 L599.98,625.96 L600.79,625.97 L601.61,625.97 L602.42,625.97 L603.24,625.97 L604.06,625.98 L604.87,625.98 L605.69,625.98 L606.51,625.98 L607.32,625.99 L608.14,625.99 L608.96,625.99 L609.77,625.99 L610.59,625.99 L611.41,625.99 L612.22,625.99 L613.04,625.99 L613.85,625.99 L614.67,625.99 L615.49,626.00 L616.30,626.00 L617.12,626.00 L617.94,626.00 L618.75,626.00 L619.57,626.00 L620.39,626.00 L621.20,626.00 L622.02,626.00 L622.84,626.00 L623.65,626.00 L624.47,626.00 L625.28,626.00 L626.10,626.00 L626.92,626.00 L627.73,626.00 L628.55,626.00 L629.37,626.00 L630.18,626.00 L631.00,626.00 L631.82,626.00 L632.63,626.00 L633.45,626.00 L634.27,626.00 L635.08,626.00 L635.90,626.00 L636.71,626.00 L637.53,626.00 L638.35,626.00 L639.16,626.00 L639.98,626.00 L640.80,626.00 L641.61,626.00 L642.43,626.00 L643.25,626.00 L644.06,626.00 L644.88,626.00 L645.70,626.00 L646.51,626.00 L647.33,626.00 L648.14,626.00 L648.96,626.00 L649.78,626.00 L650.59,626.00 L651.41,626.00 L652.23,626.00 L653.04,626.00 L653.86,626.00 L654.68,626.00 L655.49,626.00 L656.31,626.00 L657.13,626.00 L657.94,626.00 L658.76,626.00 L659.57,626.00 L660.39,626.00 L661.21,626.00 L662.02,626.00 L662.84,626.00 L663.66,626.00 L664.47,626.00 L665.29,626.00 L666.11,626.00 L666.92,626.00 L667.74,626.00 L668.55,626.00 L669.37,626.00 L670.19,626.00 L671.00,626.00 L671.82,626.00 L672.64,626.00 L673.45,626.00 L674.27,626.00 L675.09,626.00 L675.90,626.00 L676.72,626.00 L677.54,626.00 L678.35,626.00 L679.17,626.00 L679.98,626.00 L680.80,626.00 L681.62,626.00 L682.43,626.00 L683.25,626.00 L684.07,626.00 L684.88,626.00 L685.70,626.00 L686.52,626.00 L687.33,626.00 L688.15,626.00 L688.97,626.00 L689.78,626.00 L690.60,626.00 L691.41,626.00 L692.23,626.00 L693.05,626.00 L693.86,626.00 L694.68,626.00 L695.50,626.00 L696.31,626.00 L697.13,626.00 L697.95,626.00 L698.76,626.00 L699.58,626.00 L700.40,626.00 L701.21,626.00 L702.03,626.00 L702.84,626.00 L703.66,626.00 L704.48,626.00 L705.29,626.00 L706.11,626.00 L706.93,626.00 L707.74,626.00 L708.56,626.00 L709.38,626.00" fill="none" stroke="#ff9a22" stroke-width="1.4"/>
<path d="M383.62,625.78 L384.44,625.54 L385.26,625.17 L386.07,624.63 L386.89,623.91 L387.71,622.97 L388.52,621.80 L389.34,620.38 L390.16,618.68 L390.97,616.71 L391.79,614.44 L392.60,611.86 L393.42,608.99 L394.24,605.80 L395.05,602.31 L395.87,598.51 L396.69,594.42 L397.50,590.03 L398.32,585.36 L399.14,580.42 L399.95,575.21 L400.77,569.76 L401.59,564.08 L402.40,558.18 L403.22,552.08 L404.03,545.80 L404.85,539.35 L405.67,532.76 L406.48,526.04 L407.30,519.21 L408.12,512.29 L408.93,505.30 L409.75,498.26 L410.57,491.19 L411.38,484.11 L412.20,477.03 L413.02,469.97 L413.83,462.95 L414.65,455.99 L415.46,449.11 L416.28,442.31 L417.10,435.62 L417.91,429.05 L418.73,422.61 L419.55,416.32 L420.36,410.18 L421.18,404.22 L422.00,398.44 L422.81,392.85 L423.63,387.45 L424.45,382.27 L425.26,377.30 L426.08,372.56 L426.89,368.04 L427.71,363.76 L428.53,359.72 L429.34,355.93 L430.16,352.38 L430.98,349.07 L431.79,346.02 L432.61,343.23 L433.43,340.68 L434.24,338.39 L435.06,336.35 L435.87,334.56 L436.69,333.03 L437.51,331.74 L438.32,330.69 L439.14,329.89 L439.96,329.33 L440.77,329.00 L441.59,328.90 L442.41,329.03 L443.22,329.38 L444.04,329.95 L444.86,330.72 L445.67,331.70 L446.49,332.89 L447.30,334.26 L448.12,335.82 L448.94,337.56 L449.75,339.48 L450.57,341.56 L451.39,343.81 L452.20,346.21 L453.02,348.75 L453.84,351.44 L454.65,354.26 L455.47,357.20 L456.29,360.26 L457.10,363.44 L457.92,366.72 L458.73,370.10 L459.55,373.58 L460.37,377.14 L461.18,380.77 L462.00,384.48 L462.82,388.26 L463.63,392.09 L464.45,395.98 L465.27,399.92 L466.08,403.90 L466.90,407.92 L467.72,411.96 L468.53,416.03 L469.35,420.12 L470.16,424.23 L470.98,428.35 L471.80,432.47 L472.61,436.59 L473.43,440.71 L474.25,444.82 L475.06,448.91 L475.88,453.00 L476.70,457.06 L477.51,461.10 L478.33,465.11 L479.15,469.09 L479.96,473.04 L480.78,476.95 L481.59,480.83 L482.41,484.66 L483.23,488.45 L484.04,492.19 L484.86,495.89 L485.68,499.53 L486.49,503.13 L487.31,506.67 L488.13,510.15 L488.94,513.58 L489.76,516.95 L490.58,520.27 L491.39,523.52 L492.21,526.71 L493.02,529.85 L493.84,532.92 L494.66,535.93 L495.47,538.87 L496.29,541.75 L497.11,544.57 L497.92,547.33 L498.74,550.02 L499.56,552.65 L500.37,555.22 L501.19,557.72 L502.01,560.16 L502.82,562.54 L503.64,564.85 L504.45,567.11 L505.27,569.30 L506.09,571.43 L506.90,573.50 L507.72,575.52 L508.54,577.47 L509.35,579.37 L510.17,581.21 L510.99,583.00 L511.80,584.73 L512.62,586.40 L513.43,588.03 L514.25,589.60 L515.07,591.12 L515.88,592.58 L516.70,594.00 L517.52,595.38 L518.33,596.70 L519.15,597.98 L519.97,599.21 L520.78,600.40 L521.60,601.55 L522.42,602.65 L523.23,603.71 L524.05,604.74 L524.86,605.72 L525.68,606.67 L526.50,607.58 L527.31,608.45 L528.13,609.29 L528.95,610.10 L529.76,610.87 L530.58,611.61 L531.40,612.32 L532.21,613.00 L533.03,613.66 L533.85,614.28 L534.66,614.88 L535.48,615.45 L536.29,616.00 L537.11,616.52 L537.93,617.02 L538.74,617.50 L539.56,617.95 L540.38,618.38 L541.19,618.80 L542.01,619.19 L542.83,619.57 L543.64,619.92 L544.46,620.26 L545.28,620.59 L546.09,620.89 L546.91,621.19 L547.72,621.46 L548.54,621.73 L549.36,621.98 L550.17,622.22 L550.99,622.44 L551.81,622.65 L552.62,622.86 L553.44,623.05 L554.26,623.23 L555.07,623.40 L555.89,623.56 L556.71,623.71 L557.52,623.86 L558.34,623.99 L559.15,624.12 L559.97,624.24 L560.79,624.36 L561.60,624.46 L562.42,624.57 L563.24,624.66 L564.05,624.75 L564.87,624.84 L565.69,624.91 L566.50,624.99 L567.32,625.06 L568.14,625.12 L568.95,625.19 L569.77,625.24 L570.58,625.30 L571.40,625.35 L572.22,625.39 L573.03,625.44 L573.85,625.48 L574.67,625.52 L575.48,625.55 L576.30,625.59 L577.12,625.62 L577.93,625.65 L578.75,625.67 L579.57,625.70 L580.38,625.72 L581.20,625.74 L582.01,625.76 L582.83,625.78 L583.65,625.80 L584.46,625.82 L585.28,625.83 L586.10,625.85 L586.91,625.86 L587.73,625.87 L588.55,625.88 L589.36,625.89 L590.18,625.90 L590.99,625.91 L591.81,625.92 L592.63,625.92 L593.44,625.93 L594.26,625.94 L595.08,625.94 L595.89,625.95 L596.71,625.95 L597.53,625.96 L598.34,625.96 L599.16,625.96 L599.98,625.97 L600.79,625.97 L601.61,625.97 L602.42,625.98 L603.24,625.98 L604.06,625.98 L604.87,625.98 L605.69,625.98 L606.51,625.99 L607.32,625.99 L608.14,625.99 L608.96,625.99 L609.77,625.99 L610.59,625.99 L611.41,625.99 L612.22,625.99 L613.04,625.99 L613.85,625.99 L614.67,626.00 L615.49,626.00 L616.30,626.00 L617.12,626.00 L617.94,626.00 L618.75,626.00 L619.57,626.00 L620.39,626.00 L621.20,626.00 L622.02,626.00 L622.84,626.00 L623.65,626.00 L624.47,626.00 L625.28,626.00 L626.10,626.00 L626.92,626.00 L627.73,626.00 L628.55,626.00 L629.37,626.00 L630.18,626.00 L631.00,626.00 L631.82,626.00 L632.63,626.00 L633.45,626.00 L634.27,626.00 L635.08,626.00 L635.90,626.00 L636.71,626.00 L637.53,626.00 L638.35,626.00 L639.16,626.00 L639.98,626.00 L640.80,626.00 L641.61,626.00 L642.43,626.00 L643.25,626.00 L644.06,626.00 L644.88,626.00 L645.70,626.00 L646.51,626.00 L647.33,626.00 L648.14,626.00 L648.96,626.00 L649.78,626.00 L650.59,626.00 L651.41,626.00 L652.23,626.00 L653.04,626.00 L653.86,626.00 L654.68,626.00 L655.49,626.00 L656.31,626.00 L657.13,626.00 L657.94,626.00 L658.76,626.00 L659.57,626.00 L660.39,626.00 L661.21,626.00 L662.02,626.00 L662.84,626.00 L663.66,626.00 L664.47,626.00 L665.29,626.00 L666.11,626.00 L666.92,626.00 L667.74,626.00 L668.55,626.00 L669.37,626.00 L670.19,626.00 L671.00,626.00 L671.82,626.00 L672.64,626.00 L673.45,626.00 L674.27,626.00 L675.09,626.00 L675.90,626.00 L676.72,626.00 L677.54,626.00 L678.35,626.00 L679.17,626.00 L679.98,626.00 L680.80,626.00 L681.62,626.00 L682.43,626.00 L683.25,626.00 L684.07,626.00 L684.88,626.00 L685.70,626.00 L686.52,626.00 L687.33,626.00 L688.15,626.00 L688.97,626.00 L689.78,626.00 L690.60,626.00 L691.41,626.00 L692.23,626.00 L693.05,626.00 L693.86,626.00 L694.68,626.00 L695.50,626.00 L696.31,626.00 L697.13,626.00 L697.95,626.00 L698.76,626.00 L699.58,626.00 L700.40,626.00 L701.21,626.00 L702.03,626.00 L702.84,626.00 L703.66,626.00 L704.48,626.00 L705.29,626.00 L706.11,626.00 L706.93,626.00 L707.74,626.00 L708.56,626.00 L709.38,626.00" fill="none" stroke="#006400" stroke-width="1.4"/>
<line x1="749" y1="458.9" x2="766" y2="458.9" stroke="#ff9a22" stroke-width="1.4"/>
<line x1="749" y1="480.4" x2="766" y2="480.4" stroke="#006400" stroke-width="1.4"/>
<line x1="749" y1="502" x2="766" y2="502" stroke="#2a8cff" stroke-width="1.5"/>
<rect x="901.05" y="459.75" width="7.9" height="167.05" fill="#a020f0"/><rect x="941.83" y="332.01" width="7.9" height="294.79" fill="#a020f0"/><rect x="982.61" y="329.00" width="7.9" height="297.80" fill="#a020f0"/><rect x="1023.39" y="407.15" width="7.9" height="219.65" fill="#a020f0"/><rect x="1064.17" y="498.67" width="7.9" height="128.13" fill="#a020f0"/><rect x="1104.95" y="566.01" width="7.9" height="60.79" fill="#a020f0"/><rect x="1145.73" y="603.32" width="7.9" height="23.48" fill="#a020f0"/><rect x="1186.51" y="619.58" width="7.9" height="7.22" fill="#a020f0"/><rect x="1227.29" y="625.12" width="7.9" height="1.68" fill="#a020f0"/><rect x="1268.07" y="625.80" width="7.9" height="1.00" fill="#a020f0"/><rect x="1308.85" y="626.78" width="7.9" height="0.02" fill="#a020f0"/></svg>
<div class="tl" style="left:340.30px;top:645.2px">0.00</div><div class="tl" style="left:423.40px;top:645.2px">0.25</div><div class="tl" style="left:506.50px;top:645.2px">0.50</div><div class="tl" style="left:589.60px;top:645.2px">0.75</div><div class="tl" style="left:672.70px;top:645.2px">1.00</div><div class="tl" style="left:865.00px;top:646.2px">0</div><div class="tl" style="left:905.78px;top:646.2px">1</div><div class="tl" style="left:946.56px;top:646.2px">2</div><div class="tl" style="left:987.34px;top:646.2px">3</div><div class="tl" style="left:1028.12px;top:646.2px">4</div><div class="tl" style="left:1068.90px;top:646.2px">5</div><div class="tl" style="left:1109.68px;top:646.2px">6</div><div class="tl" style="left:1150.46px;top:646.2px">7</div><div class="tl" style="left:1191.24px;top:646.2px">8</div><div class="tl" style="left:1232.02px;top:646.2px">9</div><div class="tl" style="left:1272.80px;top:646.2px">10</div><div class="axt" style="left:507.20px;top:660px">θ</div><div class="axt" style="left:1068.00px;top:660px">Y'</div><div class="leg" style="left:775px;top:453px">likelihood</div><div class="leg" style="left:775px;top:474.5px">posterior</div><div class="leg" style="left:775px;top:496px">prior</div>
<table class="tb abs" style="left:357px;top:682px"><colgroup><col style="width:99px"><col style="width:82px"><col style="width:66px"><col style="width:83px"><col style="width:83px"></colgroup><tr class="hd"><th style="text-align:left">-</th><th>Mean</th><th>SD</th><th>Q_025</th><th>Q_975</th></tr><tr><td style="text-align:left">Prior</td><td>0.50</td><td>0.35</td><td>0.00</td><td>1.00</td></tr><tr><td style="text-align:left">Posterior</td><td>0.21</td><td>0.09</td><td>0.07</td><td>0.41</td></tr><tr><td style="text-align:left">Predictive</td><td>2.14</td><td>1.54</td><td>0.00</td><td>6.00</td></tr></table>
<svg class="abs" style="left:870px;top:682px" width="474" height="178" viewBox="0 0 474 178"><defs><radialGradient id="g_red" cx="0.62" cy="0.35" r="0.78"><stop offset="0" stop-color="#ff5a4a"/><stop offset="0.28" stop-color="#d81010"/><stop offset="0.72" stop-color="#b20a0a"/><stop offset="1" stop-color="#7a0000"/></radialGradient><radialGradient id="g_orange" cx="0.62" cy="0.35" r="0.78"><stop offset="0" stop-color="#ffa050"/><stop offset="0.28" stop-color="#e8580c"/><stop offset="0.72" stop-color="#c24207"/><stop offset="1" stop-color="#8a2000"/></radialGradient><radialGradient id="g_yorange" cx="0.62" cy="0.35" r="0.78"><stop offset="0" stop-color="#ffd060"/><stop offset="0.28" stop-color="#f0a800"/><stop offset="0.72" stop-color="#c78200"/><stop offset="1" stop-color="#8a4a00"/></radialGradient><radialGradient id="g_yellow" cx="0.62" cy="0.35" r="0.78"><stop offset="0" stop-color="#fff8a0"/><stop offset="0.28" stop-color="#f7dc00"/><stop offset="0.72" stop-color="#dbba00"/><stop offset="1" stop-color="#b08800"/></radialGradient><radialGradient id="g_green" cx="0.62" cy="0.35" r="0.78"><stop offset="0" stop-color="#7aff7a"/><stop offset="0.28" stop-color="#14c814"/><stop offset="0.72" stop-color="#0c9e12"/><stop offset="1" stop-color="#006010"/></radialGradient><radialGradient id="g_blue" cx="0.62" cy="0.35" r="0.78"><stop offset="0" stop-color="#50c0ff"/><stop offset="0.28" stop-color="#1668e0"/><stop offset="0.72" stop-color="#104bba"/><stop offset="1" stop-color="#062080"/></radialGradient><radialGradient id="g_dblue" cx="0.62" cy="0.35" r="0.78"><stop offset="0" stop-color="#3070d0"/><stop offset="0.28" stop-color="#103090"/><stop offset="0.72" stop-color="#0b2170"/><stop offset="1" stop-color="#040a40"/></radialGradient><radialGradient id="g_brown" cx="0.62" cy="0.35" r="0.78"><stop offset="0" stop-color="#8a4a2a"/><stop offset="0.28" stop-color="#4a1a0a"/><stop offset="0.72" stop-color="#391306"/><stop offset="1" stop-color="#200800"/></radialGradient><radialGradient id="g_dred" cx="0.62" cy="0.35" r="0.78"><stop offset="0" stop-color="#a02a10"/><stop offset="0.28" stop-color="#6a1208"/><stop offset="0.72" stop-color="#500c05"/><stop offset="1" stop-color="#2a0400"/></radialGradient></defs><rect width="474" height="178" fill="#1e0a05"/><ellipse cx="22" cy="6" rx="32" ry="18" transform="rotate(-10 22 6)" fill="url(#g_red)"/><ellipse cx="127" cy="0" rx="30" ry="12" transform="rotate(0 127 0)" fill="url(#g_red)"/><ellipse cx="186" cy="8" rx="25" ry="20" transform="rotate(0 186 8)" fill="url(#g_brown)"/><ellipse cx="5" cy="46" rx="18" ry="26" transform="rotate(0 5 46)" fill="url(#g_red)"/><ellipse cx="69" cy="98" rx="24" ry="26" transform="rotate(0 69 98)" fill="url(#g_dred)"/><ellipse cx="110" cy="78" rx="32" ry="20" transform="rotate(0 110 78)" fill="url(#g_brown)"/><ellipse cx="20" cy="108" rx="26" ry="34" transform="rotate(0 20 108)" fill="url(#g_blue)"/><ellipse cx="28" cy="165" rx="20" ry="18" transform="rotate(0 28 165)" fill="url(#g_dblue)"/><ellipse cx="5" cy="172" rx="20" ry="10" transform="rotate(0 5 172)" fill="url(#g_blue)"/><ellipse cx="41" cy="60" rx="33" ry="42" transform="rotate(25 41 60)" fill="url(#g_green)"/><ellipse cx="100" cy="36" rx="32" ry="32" transform="rotate(0 100 36)" fill="url(#g_orange)"/><ellipse cx="156" cy="53" rx="35" ry="25" transform="rotate(-20 156 53)" fill="url(#g_red)"/><ellipse cx="214" cy="53" rx="32" ry="27" transform="rotate(10 214 53)" fill="url(#g_green)"/><ellipse cx="183" cy="103" rx="43" ry="32" transform="rotate(10 183 103)" fill="url(#g_red)"/><ellipse cx="132" cy="170" rx="30" ry="15" transform="rotate(0 132 170)" fill="url(#g_dblue)"/><ellipse cx="123" cy="126" rx="31" ry="34" transform="rotate(-25 123 126)" fill="url(#g_yellow)"/><ellipse cx="69" cy="148" rx="33" ry="35" transform="rotate(10 69 148)" fill="url(#g_orange)"/><ellipse cx="196" cy="152" rx="34" ry="31" transform="rotate(0 196 152)" fill="url(#g_green)"/><ellipse cx="244" cy="18" rx="38" ry="29" transform="rotate(-25 244 18)" fill="url(#g_blue)"/><ellipse cx="308" cy="2" rx="29" ry="13" transform="rotate(0 308 2)" fill="url(#g_yorange)"/><ellipse cx="363" cy="10" rx="31" ry="22" transform="rotate(0 363 10)" fill="url(#g_yellow)"/><ellipse cx="278" cy="37" rx="32" ry="33" transform="rotate(10 278 37)" fill="url(#g_orange)"/><ellipse cx="335" cy="33" rx="29" ry="27" transform="rotate(0 335 33)" fill="url(#g_orange)"/><ellipse cx="458" cy="2" rx="24" ry="12" transform="rotate(0 458 2)" fill="url(#g_blue)"/><ellipse cx="466" cy="28" rx="16" ry="22" transform="rotate(0 466 28)" fill="url(#g_blue)"/><ellipse cx="413" cy="30" rx="40" ry="31" transform="rotate(15 413 30)" fill="url(#g_yellow)"/><ellipse cx="452" cy="66" rx="28" ry="25" transform="rotate(0 452 66)" fill="url(#g_red)"/><ellipse cx="300" cy="72" rx="17" ry="13" transform="rotate(0 300 72)" fill="url(#g_dblue)"/><ellipse cx="265" cy="98" rx="33" ry="34" transform="rotate(0 265 98)" fill="url(#g_blue)"/><ellipse cx="463" cy="140" rx="16" ry="20" transform="rotate(0 463 140)" fill="url(#g_dred)"/><ellipse cx="455" cy="101" rx="24" ry="27" transform="rotate(0 455 101)" fill="url(#g_yellow)"/><ellipse cx="433" cy="137" rx="17" ry="23" transform="rotate(0 433 137)" fill="url(#g_blue)"/><ellipse cx="341" cy="87" rx="39" ry="35" transform="rotate(-25 341 87)" fill="url(#g_yellow)"/><ellipse cx="402" cy="88" rx="34" ry="33" transform="rotate(10 402 88)" fill="url(#g_yellow)"/><ellipse cx="260" cy="158" rx="32" ry="29" transform="rotate(0 260 158)" fill="url(#g_orange)"/><ellipse cx="445" cy="172" rx="36" ry="18" transform="rotate(-10 445 172)" fill="url(#g_blue)"/><ellipse cx="324" cy="143" rx="42" ry="33" transform="rotate(0 324 143)" fill="url(#g_red)"/><ellipse cx="394" cy="146" rx="33" ry="34" transform="rotate(0 394 146)" fill="url(#g_blue)"/></svg>
</body></html>
